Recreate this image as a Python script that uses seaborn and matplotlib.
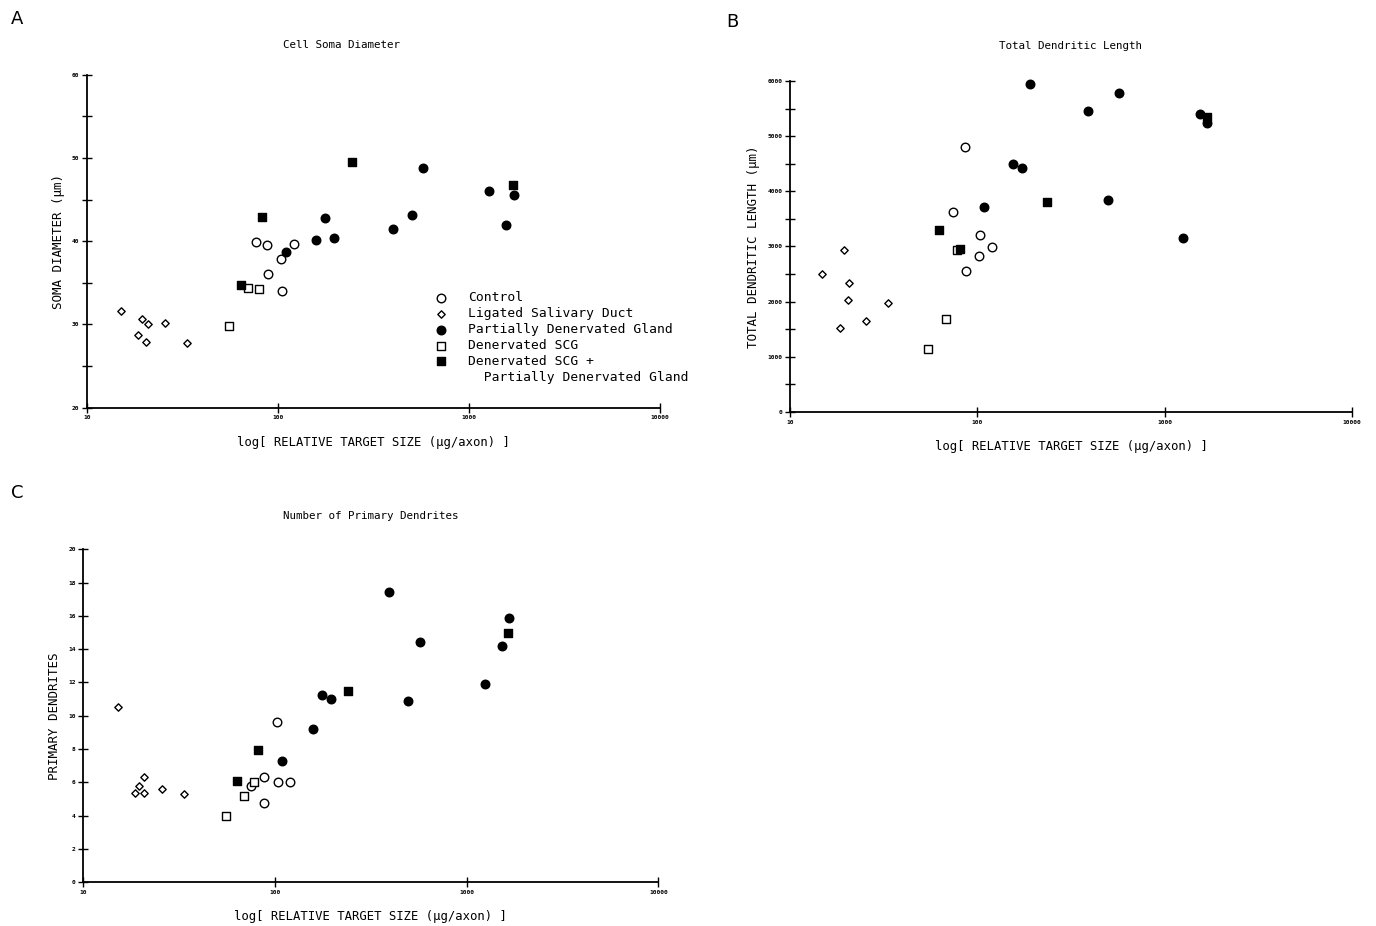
import numpy as np
import pandas as pd
import seaborn as sns
import matplotlib
matplotlib.use('Agg')
from matplotlib import pyplot as plt
from matplotlib.lines import Line2D
from matplotlib.ticker import FixedLocator, NullLocator, MultipleLocator

sns.set_style('ticks')
plt.rcParams['font.family'] = ['DejaVu Sans Mono', 'DejaVu Sans']
plt.rcParams['text.color'] = 'black'
plt.rcParams['axes.labelcolor'] = 'black'
plt.rcParams['xtick.color'] = 'black'
plt.rcParams['ytick.color'] = 'black'

groups = ['Control', 'Ligated Salivary Duct', 'Partially Denervated Gland',
          'Denervated SCG', 'Denervated SCG +']
legend_extra = '  Partially Denervated Gland'

# A: cell soma diameter (um)
a_ctrl_x = [76.6, 88.1, 88.8, 104.2, 121.3, 105.5]
a_ctrl_y = [39.9, 39.5, 36.0, 37.9, 39.7, 34.0]
a_lig_x = [15.1, 19.5, 20.8, 18.6, 20.4, 25.6, 33.4]
a_lig_y = [31.65, 30.7, 30.1, 28.7, 27.9, 30.2, 27.8]
a_pdg_x = [110, 158, 176, 196, 399, 503, 578, 1270, 1566, 1718]
a_pdg_y = [38.7, 40.1, 42.8, 40.4, 41.5, 43.1, 48.8, 46.0, 41.9, 45.5]
a_scg_x = [55.5, 69.5, 79.4]
a_scg_y = [29.8, 34.4, 34.2]
a_both_x = [64, 82.2, 244, 1700]
a_both_y = [34.7, 42.9, 49.5, 46.7]

# B: total dendritic length (um)
b_ctrl_x = [86.3, 74.5, 104, 120, 102.6, 87.3]
b_ctrl_y = [4801, 3623, 3207, 2989, 2826, 2554]
b_lig_x = [14.8, 19.4, 20.6, 20.4, 18.5, 25.4, 33.2]
b_lig_y = [2500, 2935, 2337, 2029, 1522, 1649, 1975]
b_pdg_x = [109, 155, 173, 191, 389, 569, 497, 1247, 1553, 1693]
b_pdg_y = [3714, 4493, 4420, 5942, 5453, 5779, 3841, 3152, 5399, 5236]
b_scg_x = [54.8, 68.4, 78.3]
b_scg_y = [1141, 1685, 2935]
b_both_x = [62.8, 81.3, 235, 1694]
b_both_y = [3297, 2953, 3804, 5344]

# C: number of primary dendrites
c_ctrl_x = [75.0, 87.3, 87.9, 103, 104, 120]
c_ctrl_y = [5.8, 6.32, 4.76, 9.6, 6.0, 6.0]
c_lig_x = [15.1, 18.6, 19.4, 20.6, 20.7, 25.6, 33.5]
c_lig_y = [10.5, 5.34, 5.8, 5.34, 6.33, 5.6, 5.3]
c_pdg_x = [109, 157, 175, 195, 392, 493, 569, 1244, 1538, 1671]
c_pdg_y = [7.26, 9.21, 11.24, 11.0, 17.43, 10.9, 14.43, 11.88, 14.22, 15.87]
c_scg_x = [55.3, 69.2, 78.0]
c_scg_y = [3.98, 5.2, 6.0]
c_both_x = [63.7, 81.3, 240, 1651]
c_both_y = [6.1, 7.94, 11.5, 15.0]

x_ticks = [10, 100, 1000, 10000]
x_ticklabels = ['10', '100', '1000', '10000']

# marker, facecolor, size per group
styles = [('o', 'white', 38), ('D', 'white', 14), ('o', 'black', 38),
          ('s', 'white', 34), ('s', 'black', 34)]


def make_df(xs, ys):
    rows = []
    for g, x, y in zip(groups, xs, ys):
        for xi, yi in zip(x, y):
            rows.append({'group': g, 'x': xi, 'y': yi})
    return pd.DataFrame(rows)


def draw_panel(ax, df, title, title_x, title_y, ylabel, ylim, major, minor, legend=False):
    for g, (m, fc, s) in zip(groups, styles):
        sub = df[df['group'] == g]
        sns.scatterplot(data=sub, x='x', y='y', marker=m, s=s, facecolor=fc,
                        edgecolor='black', linewidth=1.0, ax=ax, label=g,
                        zorder=3, clip_on=False)
    ax.set_xscale('log')
    ax.set_xlim(10, 10000)
    ax.set_ylim(*ylim)
    ax.xaxis.set_major_locator(FixedLocator(x_ticks))
    ax.set_xticklabels(x_ticklabels)
    ax.xaxis.set_minor_locator(NullLocator())
    ax.yaxis.set_major_locator(MultipleLocator(major))
    if minor:
        ax.yaxis.set_minor_locator(MultipleLocator(minor))
    else:
        ax.yaxis.set_minor_locator(NullLocator())
    sns.despine(ax=ax)
    for sp in ['left', 'bottom']:
        ax.spines[sp].set_linewidth(1.3)
        ax.spines[sp].set_color('black')
    ax.tick_params(which='both', direction='inout', length=7, width=1.0,
                   color='black', labelsize=4.5, pad=2)
    for lab in ax.get_xticklabels() + ax.get_yticklabels():
        lab.set_fontweight('bold')
    ax.set_xlabel('log[ RELATIVE TARGET SIZE (\u00b5g/axon) ]', fontsize=8.8, labelpad=11)
    ax.set_ylabel(ylabel, fontsize=9, labelpad=5)
    ax.text(title_x, title_y, title, transform=ax.transAxes, ha='center',
            va='center', fontsize=7.8)
    if legend:
        handles, labels = ax.get_legend_handles_labels()
        handles.append(Line2D([], [], linestyle='none', marker=None))
        labels.append(legend_extra)
        ax.legend(handles, labels, loc='upper left', bbox_to_anchor=(0.597, 0.365),
                  frameon=False, fontsize=9.4, handletextpad=1.6, labelspacing=0.22,
                  borderaxespad=0, handlelength=1.0)
    else:
        leg = ax.get_legend()
        if leg is not None:
            leg.remove()


fig = plt.figure(figsize=(13.76, 9.26), dpi=100)
ax_a = fig.add_axes([0.0632, 0.5597, 0.4164, 0.3597])
ax_b = fig.add_axes([0.5741, 0.5551, 0.4084, 0.3575])
ax_c = fig.add_axes([0.0606, 0.0472, 0.4178, 0.3596])

df_a = make_df([a_ctrl_x, a_lig_x, a_pdg_x, a_scg_x, a_both_x],
               [a_ctrl_y, a_lig_y, a_pdg_y, a_scg_y, a_both_y])
df_b = make_df([b_ctrl_x, b_lig_x, b_pdg_x, b_scg_x, b_both_x],
               [b_ctrl_y, b_lig_y, b_pdg_y, b_scg_y, b_both_y])
df_c = make_df([c_ctrl_x, c_lig_x, c_pdg_x, c_scg_x, c_both_x],
               [c_ctrl_y, c_lig_y, c_pdg_y, c_scg_y, c_both_y])

draw_panel(ax_a, df_a, 'Cell Soma Diameter', 0.445, 1.09, 'SOMA DIAMETER (\u00b5m)',
           (20, 60), 10, 5, legend=True)
draw_panel(ax_b, df_b, 'Total Dendritic Length', 0.5, 1.105, 'TOTAL DENDRITIC LENGTH (\u00b5m)',
           (0, 6000), 1000, 500)
draw_panel(ax_c, df_c, 'Number of Primary Dendrites', 0.5, 1.1, 'PRIMARY DENDRITES',
           (0, 20), 2, None)

fig.text(0.008, 0.98, 'A', fontsize=13, family='DejaVu Sans', va='center', color='black')
fig.text(0.528, 0.976, 'B', fontsize=13, family='DejaVu Sans', va='center', color='black')
fig.text(0.008, 0.468, 'C', fontsize=13, family='DejaVu Sans', va='center', color='black')

fig.savefig('out.png', dpi=100, facecolor='white')
